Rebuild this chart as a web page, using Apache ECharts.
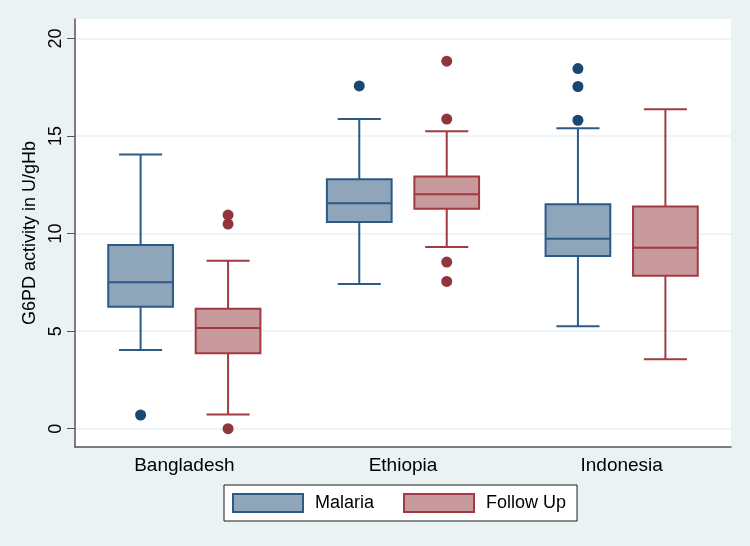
<!DOCTYPE html>
<html>
<head>
<meta charset="utf-8">
<script src="https://cdn.jsdelivr.net/npm/echarts@6/dist/echarts.min.js"></script>
<style>
html,body{margin:0;padding:0;background:#EAF2F3;}
#chart{width:750px;height:546px;}
</style>
</head>
<body>
<div id="chart"></div>
<script>
// ---- data ----
const categories = ['Bangladesh', 'Ethiopia', 'Indonesia'];
const seriesNames = ['Malaria', 'Follow Up'];
// [category index, lower whisker, Q1, median, Q3, upper whisker]
const malariaBox = [
  [0, 4.03, 6.25, 7.50, 9.41, 14.06],
  [1, 7.41, 10.60, 11.55, 12.78, 15.87],
  [2, 5.25, 8.85, 9.73, 11.50, 15.40]
];
const followUpBox = [
  [0, 0.72, 3.86, 5.16, 6.15, 8.61],
  [1, 9.31, 11.27, 12.01, 12.93, 15.24],
  [2, 3.56, 7.84, 9.27, 11.39, 16.38]
];
// [category index, value]
const malariaOutliers = [
  [0, 0.70],
  [1, 17.57],
  [2, 18.46], [2, 17.54], [2, 15.81]
];
const followUpOutliers = [
  [0, 10.95], [0, 10.49], [0, 0.0],
  [1, 18.84], [1, 15.87], [1, 8.54], [1, 7.55]
];
const yTicks = [0, 5, 10, 15, 20];

// ---- styles ----
const FONT = '"Liberation Sans", Arial, sans-serif';
const malariaFill = '#8FA5BA', malariaStroke = '#2C5A86', malariaDot = '#1A476F';
const fuFill = '#C8999D', fuStroke = '#A13A41', fuDot = '#90353B';

function boxRenderer(offFrac, fill, stroke) {
  return function (params, api) {
    const c = api.value(0);
    const band = api.size([1, 0])[0];
    const off = band * offFrac;
    const bw = band * 0.296, cw = band * 0.197;
    const yLow = api.coord([c, api.value(1)])[1];
    const yQ1 = api.coord([c, api.value(2)])[1];
    const yMed = api.coord([c, api.value(3)])[1];
    const yQ3 = api.coord([c, api.value(4)])[1];
    const yHigh = api.coord([c, api.value(5)])[1];
    const x = api.coord([c, api.value(3)])[0] + off;
    const ls = { stroke: stroke, lineWidth: 2, fill: null };
    return {
      type: 'group',
      children: [
        { type: 'line', shape: { x1: x, y1: yQ3, x2: x, y2: yHigh }, style: ls },
        { type: 'line', shape: { x1: x - cw / 2, y1: yHigh, x2: x + cw / 2, y2: yHigh }, style: ls },
        { type: 'line', shape: { x1: x, y1: yQ1, x2: x, y2: yLow }, style: ls },
        { type: 'line', shape: { x1: x - cw / 2, y1: yLow, x2: x + cw / 2, y2: yLow }, style: ls },
        { type: 'rect', shape: { x: x - bw / 2, y: yQ3, width: bw, height: yQ1 - yQ3 },
          style: { fill: fill, stroke: stroke, lineWidth: 2 } },
        { type: 'line', shape: { x1: x - bw / 2, y1: yMed, x2: x + bw / 2, y2: yMed }, style: ls }
      ]
    };
  };
}
function dotRenderer(offFrac, color) {
  return function (params, api) {
    const c = api.value(0);
    const band = api.size([1, 0])[0];
    const p = api.coord([c, api.value(1)]);
    return { type: 'circle', shape: { cx: p[0] + band * offFrac, cy: p[1], r: 5.5 },
      style: { fill: color } };
  };
}

const chart = echarts.init(document.getElementById('chart'), null, { renderer: 'canvas' });
chart.setOption({
  backgroundColor: '#EAF2F3',
  animation: false,
  textStyle: { fontFamily: FONT },
  grid: { left: 75, right: 19, top: 19, bottom: 99, show: true, backgroundColor: '#fff', borderWidth: 0 },
  legend: {
    left: 224, top: 485,
    orient: 'horizontal',
    padding: [8, 11, 8, 8],
    borderColor: '#1a1a1a', borderWidth: 1, backgroundColor: '#fff',
    itemWidth: 70, itemHeight: 18, itemGap: 29,
    icon: 'rect',
    textStyle: { fontSize: 18, color: '#000', fontFamily: FONT, padding: [0, 0, 0, 7] },
    data: [
      { name: seriesNames[0], itemStyle: { color: malariaFill, borderColor: malariaStroke, borderWidth: 2 } },
      { name: seriesNames[1], itemStyle: { color: fuFill, borderColor: fuStroke, borderWidth: 2 } }
    ]
  },
  xAxis: {
    type: 'category',
    data: categories,
    boundaryGap: true,
    axisLine: { show: true, onZero: false, lineStyle: { color: '#555', width: 1.5 } },
    axisTick: { show: false },
    axisLabel: { fontSize: 19, color: '#000', margin: 9, fontFamily: FONT },
    splitLine: { show: false }
  },
  yAxis: {
    type: 'value',
    min: -0.94, max: 21,
    name: 'G6PD activity in U/gHb',
    nameLocation: 'middle',
    nameGap: 26,
    nameRotate: 90,
    nameTextStyle: { fontSize: 18, color: '#000', fontFamily: FONT },
    axisLine: { show: true, onZero: false, lineStyle: { color: '#555', width: 1.5 } },
    axisTick: { show: true, length: 8, customValues: yTicks, lineStyle: { color: '#555', width: 1 } },
    axisLabel: { customValues: yTicks, rotate: 90, margin: 10, fontSize: 18, color: '#000', fontFamily: FONT },
    splitLine: { show: true, lineStyle: { color: '#EAF2F3', width: 1.5 } }
  },
  series: [
    { name: seriesNames[0], type: 'custom', renderItem: boxRenderer(-0.2, malariaFill, malariaStroke),
      data: malariaBox, encode: { x: 0, y: [1, 2, 3, 4, 5] },
      itemStyle: { color: malariaFill, borderColor: malariaStroke } },
    { name: seriesNames[1], type: 'custom', renderItem: boxRenderer(0.2, fuFill, fuStroke),
      data: followUpBox, encode: { x: 0, y: [1, 2, 3, 4, 5] },
      itemStyle: { color: fuFill, borderColor: fuStroke } },
    { name: seriesNames[0], type: 'custom', renderItem: dotRenderer(-0.2, malariaDot),
      data: malariaOutliers, encode: { x: 0, y: 1 }, itemStyle: { color: malariaFill } },
    { name: seriesNames[1], type: 'custom', renderItem: dotRenderer(0.2, fuDot),
      data: followUpOutliers, encode: { x: 0, y: 1 }, itemStyle: { color: fuFill } }
  ]
});
</script>
</body>
</html>
